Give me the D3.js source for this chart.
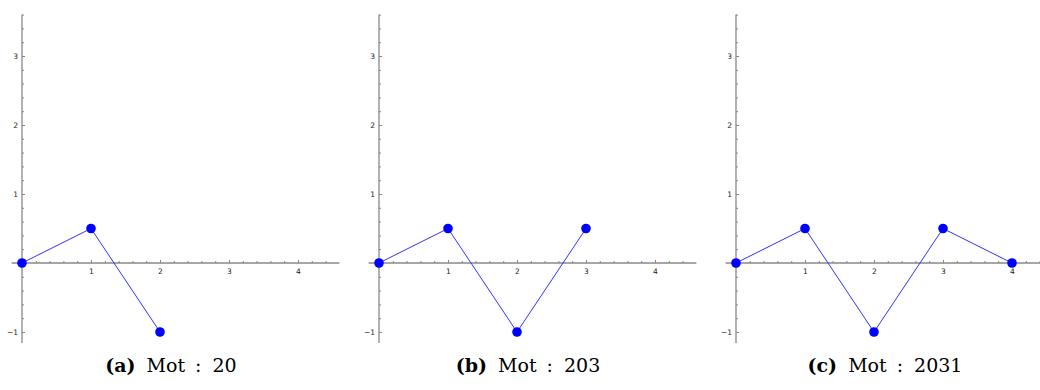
<!DOCTYPE html>
<html>
<head>
<meta charset="utf-8">
<script src="https://cdn.jsdelivr.net/npm/d3@7"></script>
<style>
  body { margin: 0; background: #fff; }
  svg { display: block; }
</style>
</head>
<body>
<div id="chart"></div>
<script>
// word values for each panel
var labels = ['a', 'b', 'c'];
var words = ['20', '203', '2031'];
var seriesA = [0, 0.5, -1];
var seriesB = [0, 0.5, -1, 0.5];
var seriesC = [0, 0.5, -1, 0.5, 0];
var xMajor = [1, 2, 3, 4];
var yMajor = [-1, 1, 2, 3];

var width = 1040, height = 390;
var panelW = 357;
var series = [seriesA, seriesB, seriesC];

var svg = d3.select('#chart').append('svg')
    .attr('width', width)
    .attr('height', height);

var x = d3.scaleLinear().domain([0, 4]).range([0, 276]);
var y = d3.scaleLinear().domain([-1, 3]).range([332, 56]);

var minorX = d3.range(1, 23).map(d => +(d * 0.2).toFixed(1)).filter(d => xMajor.indexOf(d) < 0);
var minorY = d3.range(-5, 19).map(d => +(d * 0.2).toFixed(1)).filter(d => d !== 0 && yMajor.indexOf(d) < 0);

var axisColor = '#888';

series.forEach(function(vals, p) {
    var ox = 22 + p * panelW;
    var g = svg.append('g')
        .attr('transform', 'translate(' + ox + ',0)');

    // axis lines
    g.append('line')
        .attr('x1', x(-0.15)).attr('x2', x(4.6))
        .attr('y1', y(0)).attr('y2', y(0))
        .attr('stroke', axisColor).attr('stroke-width', 1.3);
    g.append('line')
        .attr('x1', x(0)).attr('x2', x(0))
        .attr('y1', y(3.6)).attr('y2', y(-1.16))
        .attr('stroke', axisColor).attr('stroke-width', 1.3);

    // minor ticks
    var xm = g.append('g').attr('transform', 'translate(0,' + y(0) + ')')
        .call(d3.axisBottom(x).tickValues(minorX).tickSize(-2).tickFormat(''));
    var ym = g.append('g').attr('transform', 'translate(' + x(0) + ',0)')
        .call(d3.axisLeft(y).tickValues(minorY).tickSize(-2).tickFormat(''));

    // major ticks with labels
    var xa = g.append('g').attr('transform', 'translate(0,' + y(0) + ')')
        .call(d3.axisBottom(x).tickValues(xMajor).tickSize(-3).tickPadding(6).tickFormat(d3.format('d')));
    var ya = g.append('g').attr('transform', 'translate(' + x(0) + ',0)')
        .call(d3.axisLeft(y).tickValues(yMajor).tickSize(-3).tickPadding(4).tickFormat(d3.format('d')));

    [xm, ym, xa, ya].forEach(function(a) {
        a.select('.domain').remove();
        a.selectAll('line').attr('stroke', axisColor);
        a.selectAll('text')
            .attr('fill', '#222')
            .attr('font-family', 'DejaVu Sans')
            .attr('font-size', 7.5);
    });
    ya.selectAll('text').attr('dy', '0.35em');

    // line + points
    var line = d3.line()
        .x((d, i) => x(i))
        .y(d => y(d));
    g.append('path')
        .datum(vals)
        .attr('d', line)
        .attr('fill', 'none')
        .attr('stroke', '#3030ff')
        .attr('stroke-width', 1);
    g.selectAll('circle.pt')
        .data(vals)
        .enter().append('circle')
        .attr('class', 'pt')
        .attr('cx', (d, i) => x(i))
        .attr('cy', d => y(d))
        .attr('r', 4.8)
        .attr('fill', '#0000ff');

    // caption, centred under the panel
    var cap = svg.append('text')
        .attr('y', 372)
        .attr('font-family', 'DejaVu Serif, serif')
        .attr('font-size', 19)
        .attr('fill', '#000');
    cap.append('tspan').attr('font-weight', 'bold').text('(' + labels[p] + ')');
    cap.append('tspan').attr('dx', 11).text('Mot');
    cap.append('tspan').attr('dx', 10).text(':');
    cap.append('tspan').attr('dx', 11).text(words[p]);
    var len = cap.node().getComputedTextLength() + 32;
    cap.attr('x', ox + 149 - len / 2);
});
</script>
</body>
</html>
